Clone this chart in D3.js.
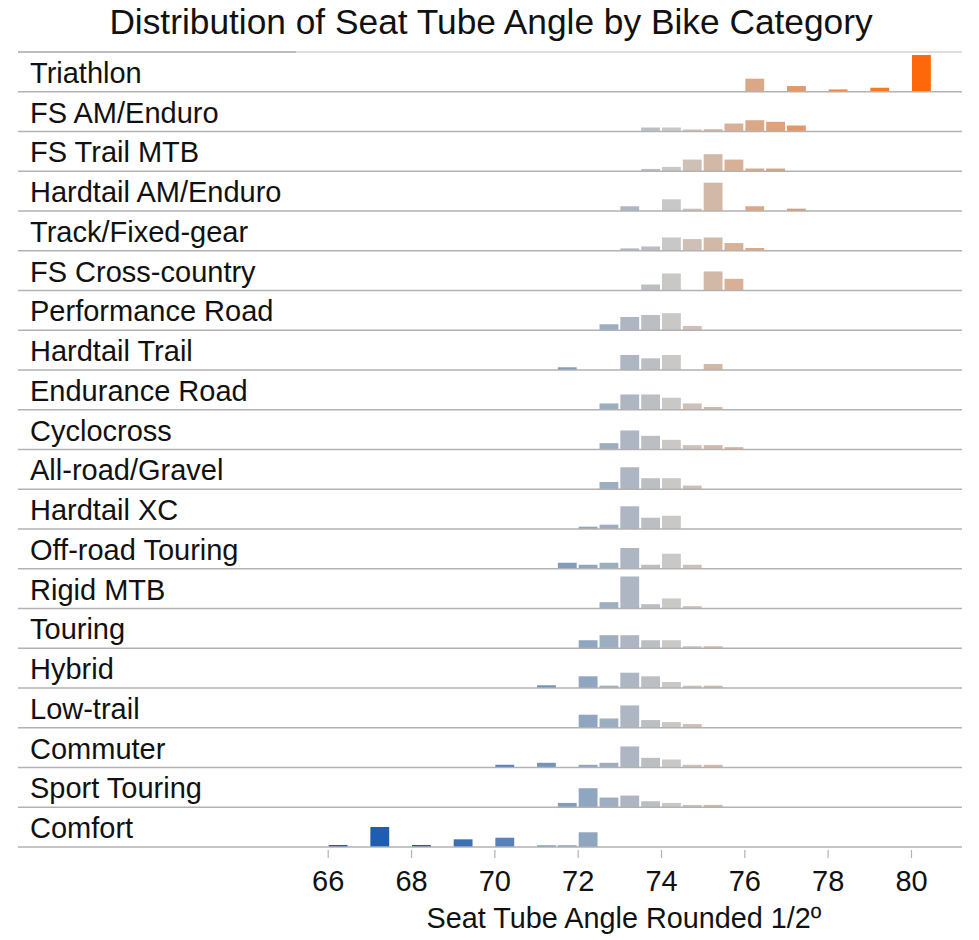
<!DOCTYPE html>
<html>
<head>
<meta charset="utf-8">
<script src="https://cdn.jsdelivr.net/npm/d3@7/dist/d3.min.js"></script>
<style>
  html, body { margin: 0; padding: 0; background: #fff; }
  svg { display: block; font-family: "Liberation Sans", Arial, Helvetica, sans-serif; }
</style>
</head>
<body>
<svg id="chart" width="979" height="940"></svg>
<script>
// ---------- data ----------
const chartTitle = "Distribution of Seat Tube Angle by Bike Category";
const xAxisTitle = "Seat Tube Angle Rounded 1/2º";
const xTicks = [66, 68, 70, 72, 74, 76, 78, 80];

const categories = [
  "Triathlon", "FS AM/Enduro", "FS Trail MTB", "Hardtail AM/Enduro",
  "Track/Fixed-gear", "FS Cross-country", "Performance Road", "Hardtail Trail",
  "Endurance Road", "Cyclocross", "All-road/Gravel", "Hardtail XC",
  "Off-road Touring", "Rigid MTB", "Touring", "Hybrid", "Low-trail",
  "Commuter", "Sport Touring", "Comfort"
];

// Share of bikes (%) per rounded half-degree angle, one list per category: [angle, share]
const triathlon        = [[76,16.3],[77,7.1],[78,2.9],[79,5.0],[80,45.9]];
const fsAmEnduro       = [[73.5,5.0],[74,5.0],[74.5,2.5],[75,2.9],[75.5,10.0],[76,14.1],[76.5,12.1],[77,7.5]];
const fsTrailMtb       = [[73.5,2.9],[74,5.4],[74.5,14.6],[75,21.3],[75.5,14.6],[76,3.4],[76.5,3.4]];
const hardtailAmEnduro = [[73,5.9],[74,14.6],[74.5,2.9],[75,35.4],[76,5.9],[77,2.9]];
const trackFixed       = [[73,2.9],[73.5,5.4],[74,16.6],[74.5,14.6],[75,16.6],[75.5,9.6],[76,3.4]];
const fsCrossCountry   = [[73.5,7.5],[74,21.3],[75,23.8],[75.5,14.6]];
const performanceRoad  = [[72.5,7.5],[73,16.6],[73.5,19.1],[74,21.3],[74.5,5.4]];
const hardtailTrail    = [[71.5,3.4],[73,18.8],[73.5,14.6],[74,18.8],[75,7.5]];
const enduranceRoad    = [[72.5,7.9],[73,19.1],[73.5,19.1],[74,15.0],[74.5,7.9],[75,3.4]];
const cyclocross       = [[72.5,7.9],[73,23.8],[73.5,17.1],[74,12.1],[74.5,5.4],[75,5.4],[75.5,2.9]];
const allRoadGravel    = [[72.5,9.1],[73,27.5],[73.5,13.8],[74,13.8],[74.5,4.6]];
const hardtailXc       = [[72,2.9],[72.5,5.4],[73,28.4],[73.5,14.1],[74,16.6]];
const offRoadTouring   = [[71.5,7.5],[72,5.0],[72.5,7.5],[73,25.9],[73.5,5.0],[74,18.8],[74.5,5.0]];
const rigidMtb         = [[72.5,7.9],[73,40.0],[73.5,5.4],[74,12.5],[74.5,2.9]];
const touring          = [[72,10.0],[72.5,16.3],[73,16.3],[73.5,10.0],[74,10.0],[74.5,2.5],[75,2.5]];
const hybrid           = [[71,3.4],[72,14.6],[72.5,2.9],[73,19.1],[73.5,14.6],[74,7.5],[74.5,2.9],[75,2.9]];
const lowTrail         = [[72,16.3],[72.5,11.6],[73,27.9],[73.5,9.6],[74,7.1],[74.5,4.6]];
const commuter         = [[70,3.4],[71,5.9],[72,3.4],[72.5,5.9],[73,26.3],[73.5,12.1],[74,10.0],[74.5,3.4],[75,3.4]];
const sportTouring     = [[71.5,5.4],[72,23.8],[72.5,12.1],[73,14.6],[73.5,7.5],[74,5.4],[74.5,2.9],[75,2.9]];
const comfort          = [[66,2.5],[67,25.0],[68,2.5],[69,9.6],[70,11.6],[71,2.1],[71.5,2.1],[72,18.4]];

const seriesValues = [
  triathlon, fsAmEnduro, fsTrailMtb, hardtailAmEnduro, trackFixed, fsCrossCountry,
  performanceRoad, hardtailTrail, enduranceRoad, cyclocross, allRoadGravel, hardtailXc,
  offRoadTouring, rigidMtb, touring, hybrid, lowTrail, commuter, sportTouring, comfort
];

// ---------- layout ----------
const svg = d3.select("#chart");
const lineLeft = 18, lineRight = 962;
const rowsTop = 52, rowsBottom = 847;

const x = d3.scaleLinear().domain([66, 80]).range([327.7, 911]);
const row = d3.scaleBand().domain(categories).range([rowsTop, rowsBottom]).padding(0);
const h = d3.scaleLinear().domain([0, 50]).range([0, 40]);
const color = d3.scaleLinear()
  .domain([68, 74, 80])
  .range(["#1e5eb0", "#c9c8c6", "#ff680a"])
  .interpolate(d3.interpolateRgb)
  .clamp(true);

// title
svg.append("text")
  .attr("x", 491).attr("y", 34)
  .attr("text-anchor", "middle")
  .attr("font-size", 35.3)
  .attr("fill", "#111")
  .text(chartTitle);

// top line
svg.append("line")
  .attr("x1", lineLeft).attr("x2", lineRight)
  .attr("y1", rowsTop).attr("y2", rowsTop)
  .attr("stroke", "#d4d4d4").attr("stroke-width", 1.5);
svg.append("line")
  .attr("x1", lineLeft).attr("x2", 296)
  .attr("y1", rowsTop).attr("y2", rowsTop)
  .attr("stroke", "#b2b2b2").attr("stroke-width", 1.5);

const rows = svg.selectAll("g.row")
  .data(categories.map((c, i) => ({ cat: c, vals: seriesValues[i] })))
  .join("g")
  .attr("class", "row")
  .attr("transform", d => `translate(0,${row(d.cat) + row.bandwidth()})`);

rows.append("text")
  .attr("x", 30).attr("y", -9)
  .attr("font-size", 29)
  .attr("fill", "#111")
  .text(d => d.cat);

rows.selectAll("rect")
  .data(d => d.vals)
  .join("rect")
  .attr("x", d => x(d[0]) + 1)
  .attr("width", d => x(d[0] + 0.5) - x(d[0]) - 2)
  .attr("y", d => -h(d[1]))
  .attr("height", d => h(d[1]))
  .attr("fill", d => color(d[0]));

rows.append("line")
  .attr("x1", lineLeft).attr("x2", lineRight)
  .attr("y1", 0).attr("y2", 0)
  .attr("stroke", "#b2b2b2").attr("stroke-width", 1.5);

// x axis
const axis = svg.append("g")
  .attr("transform", `translate(0,${rowsBottom + 3})`)
  .call(d3.axisBottom(x).tickValues(xTicks).tickSize(8).tickPadding(12).tickFormat(d3.format("d")));
axis.select(".domain").remove();
axis.selectAll(".tick line").attr("stroke", "#b2b2b2").attr("stroke-width", 1.2);
axis.selectAll(".tick text")
  .attr("font-size", 29)
  .attr("font-family", "Liberation Sans, Arial, Helvetica, sans-serif")
  .attr("fill", "#111");

svg.append("text")
  .attr("x", 624).attr("y", 928)
  .attr("text-anchor", "middle")
  .attr("font-size", 28.8)
  .attr("fill", "#111")
  .text(xAxisTitle);
</script>
</body>
</html>
